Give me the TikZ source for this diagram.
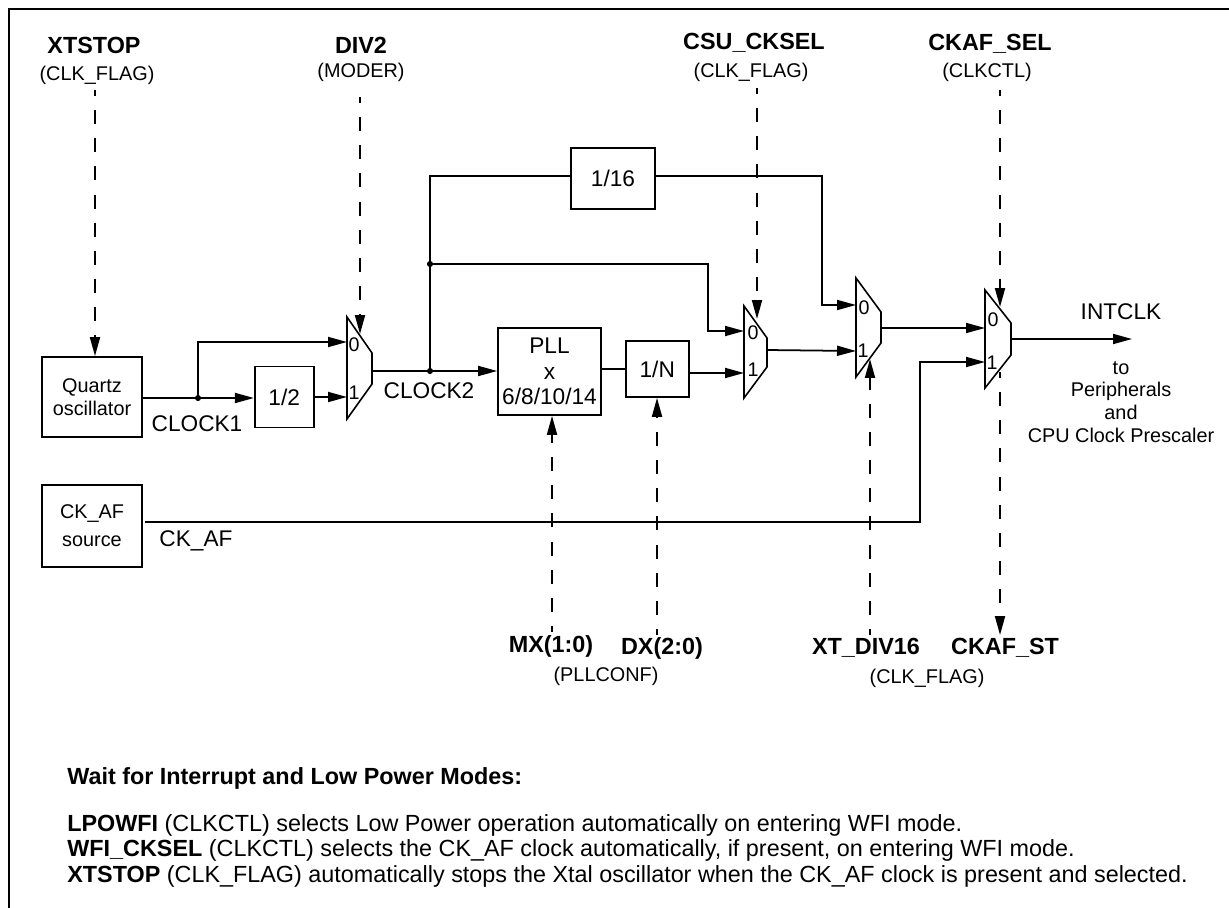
\documentclass[tikz,border=0pt]{standalone}
\usepackage{fontspec}
\setmainfont{Liberation Sans}
\usetikzlibrary{arrows.meta, positioning}
\newcommand{\fbig}{\fontsize{12.9}{15}\selectfont}
\newcommand{\fbold}{\fontsize{13.3}{15}\selectfont\bfseries}
\newcommand{\fmid}{\fontsize{11.3}{12.9}\selectfont}
\newcommand{\fbit}{\fontsize{11.2}{12}\selectfont}
\newcommand{\fnote}{\fontsize{13.3}{15}\selectfont}
% mux outline: name, left x, top y, bottom y, right x, right top y, right bottom y
\newcommand{\muxoutline}[7]{\draw[muxline] (#2,#3) -- (#5,#6) -- (#5,#7) -- (#2,#4) -- cycle;}

\begin{document}
\begin{tikzpicture}[
  x=0.02cm, y=-0.02cm,
  blockbox/.style={rectangle, draw, line width=1pt, inner sep=0pt, align=center, font=\fbig},
  srcbox/.style={blockbox, font=\fmid, minimum width=2cm},
  wire/.style={line width=1pt},
  arr/.style={-{Stealth[length=3.8mm, width=2mm, inset=0pt]}, line width=1pt},
  ctl/.style={arr, line width=1.1pt, dash pattern=on 8pt off 8pt, dash phase=4.5pt},
  muxline/.style={line width=0.9pt},
  jct/.style={circle, fill, inner sep=0pt, minimum size=3.5pt},
  bitname/.style={font=\fbold},
  regname/.style={font=\fmid},
  signame/.style={font=\fbig},
  muxbit/.style={font=\fbit, inner sep=0pt},
  notes/.style={font=\fnote, anchor=base west, inner sep=0pt},
]
  \useasboundingbox (0,0) rectangle (1229,908);

  % Frame
  \coordinate (fbl) at (9,908);
  \coordinate (ftl) at (9,9);
  \coordinate (ftr) at (1229,9);
  \draw[line width=1.35pt] (fbl) -- (ftl) -- (ftr);

  % Blocks
  \node[srcbox, minimum height=1.6cm] (quartz) at (92,397) {Quartz\\oscillator};
  \node[blockbox, minimum width=1.18cm, minimum height=1.22cm, right=2.22cm of quartz] (halfdiv) {1/2};
  \node[blockbox, minimum width=2.06cm, minimum height=1.74cm] (pll) at (549.5,371.5) {PLL\\[-0.5pt]x\\[-0.5pt]6/8/10/14};
  \node[blockbox, minimum width=1.26cm, minimum height=1.12cm, right=0.46cm of pll, yshift=0.05cm] (ndiv) {1/N};
  \node[blockbox, minimum width=1.68cm, minimum height=1.22cm] (sixteen) at (613,178.5) {1/16};
  \node[srcbox, minimum height=1.64cm, below=0.92cm of quartz] (ckaf) {CK\_AF\\[2.8pt]source};

  % Muxes
  \muxoutline{m1}{347}{317}{419}{372}{353}{384}
  \muxoutline{m2}{744}{306}{398}{767}{338}{367}
  \muxoutline{m3}{856}{278}{377}{881}{312}{343}
  \muxoutline{m4}{985}{290}{388}{1011}{323}{355}
  \node[muxbit] (m1zero) at (354,345) {0};
  \node[muxbit] (m1one) at (354,393) {1};
  \node[muxbit] (m2zero) at (753,333) {0};
  \node[muxbit] (m2one) at (753,370) {1};
  \node[muxbit] (m3zero) at (864,308) {0};
  \node[muxbit] (m3one) at (863,351) {1};
  \node[muxbit] (m4zero) at (993,320) {0};
  \node[muxbit] (m4one) at (992,363) {1};

  % Mux pins and bends
  \coordinate (m1in0) at (347,342);
  \coordinate (m1in1) at (347,397);
  \coordinate (m1out) at (372,371);
  \coordinate (m2in0) at (744,331);
  \coordinate (m2in1) at (744,373);
  \coordinate (m2out) at (767,350);
  \coordinate (m3in0) at (856,305);
  \coordinate (m3in1) at (856,351);
  \coordinate (m3out) at (881,328);
  \coordinate (m4in0) at (985,328);
  \coordinate (m4in1) at (985,362);
  \coordinate (m4out) at (1011,339);
  \coordinate (intout) at (1132,339);
  \coordinate (b16in) at (430,176);
  \coordinate (b16out) at (822,176);
  \coordinate (bm2) at (708,264);
  \coordinate (bckaf) at (920,522);
  \node[jct] (j1) at (198,398) {};
  \node[jct] (j2) at (430,371) {};
  \node[jct] (j3) at (430,264) {};

  % Clock paths
  \draw[arr] (quartz.east |- j1) -- (halfdiv.west |- j1);
  \draw[arr] (j1) |- (m1in0);
  \draw[arr] (halfdiv.east |- m1in1) -- (m1in1);
  \draw[arr] (m1out) -- (pll.west |- m1out);
  \draw[wire] (j2) -- (b16in) -- (sixteen.west |- b16in);
  \draw[arr] (sixteen.east |- b16out) -- (b16out) |- (m3in0);
  \draw[arr] (j3) -- (bm2) |- (m2in0);
  \draw[wire] (pll.east |- ndiv.west) -- (ndiv.west);
  \draw[arr] (ndiv.east |- m2in1) -- (m2in1);
  \draw[arr] (m2out) -- (m3in1);
  \draw[arr] (m3out) -- (m4in0);
  \draw[arr] ([xshift=0.04cm]ckaf.east |- bckaf) -- (bckaf) |- (m4in1);
  \draw[arr] (m4out) -- (intout);

  % Control bits
  \node[bitname] (xtstop) at (94,45) {XTSTOP};
  \node[regname] (xtstopreg) at (97,75) {(CLK\_FLAG)};
  \node[bitname] (divtwo) at (361,45) {DIV2};
  \node[regname] (divtworeg) at (361,72) {(MODER)};
  \node[bitname] (csusel) at (754,43) {CSU\_CKSEL};
  \node[regname] (csureg) at (751,72) {(CLK\_FLAG)};
  \node[bitname] (ckafsel) at (990,44) {CKAF\_SEL};
  \node[regname] (ckafreg) at (987,72) {(CLKCTL)};
  \node[bitname] (mxbits) at (551,646) {MX(1:0)};
  \node[bitname] (dxbits) at (662,648) {DX(2:0)};
  \node[regname] (pllreg) at (606,676) {(PLLCONF)};
  \node[bitname] (xtdiv) at (866,648) {XT\_DIV16};
  \node[bitname] (ckafst) at (1005,648) {CKAF\_ST};
  \node[regname] (xtdivreg) at (927,678) {(CLK\_FLAG)};

  % Dashed control lines
  \coordinate (d1) at (95,90);
  \coordinate (d2) at (360,97);
  \coordinate (d2e) at (360,334);
  \coordinate (d3) at (757,88);
  \coordinate (d3e) at (757,319);
  \coordinate (d4) at (1000,90);
  \coordinate (d4e) at (1000,307);
  \coordinate (d4b) at (1000,372);
  \coordinate (d4f) at (1000,635);
  \coordinate (d5) at (552,632);
  \coordinate (d6) at (657,635);
  \coordinate (d7) at (870,635);
  \coordinate (d7e) at (870,359);
  \draw[ctl] (d1) -- (quartz.north -| d1);
  \draw[ctl] (d2) -- (d2e);
  \draw[ctl] (d3) -- (d3e);
  \draw[ctl] (d4) -- (d4e);
  \draw[ctl] (d4b) -- (d4f);
  \draw[ctl] (d5) -- (pll.south -| d5);
  \draw[ctl] (d6) -- (ndiv.south -| d6);
  \draw[ctl] (d7) -- (d7e);

  % Signal names
  \node[signame] (clkone) at (197,424) {CLOCK1};
  \node[signame] (clktwo) at (429,391) {CLOCK2};
  \node[signame] (ckafname) at (196,541) {CK\_AF};
  \node[signame] (intclk) at (1121,312) {INTCLK};
  \node[font=\fmid, align=center] (periph) at (1121,402) {to\\Peripherals\\and\\CPU Clock Prescaler};

  % Notes
  \node[notes, font=\fnote\bfseries] (waitnote) at (67,784) {Wait for Interrupt and Low Power Modes:};
  \node[notes] (lpownote) at (67,831) {\textbf{LPOWFI} (CLKCTL) selects Low Power operation automatically on entering WFI mode.};
  \node[notes] (wfinote) at (67,856.5) {\textbf{WFI\_CKSEL} (CLKCTL) selects the CK\_AF clock automatically, if present, on entering WFI mode.};
  \node[notes] (xtnote) at (67,882) {\textbf{XTSTOP} (CLK\_FLAG) automatically stops the Xtal oscillator when the CK\_AF clock is present and selected.};
\end{tikzpicture}
\end{document}
